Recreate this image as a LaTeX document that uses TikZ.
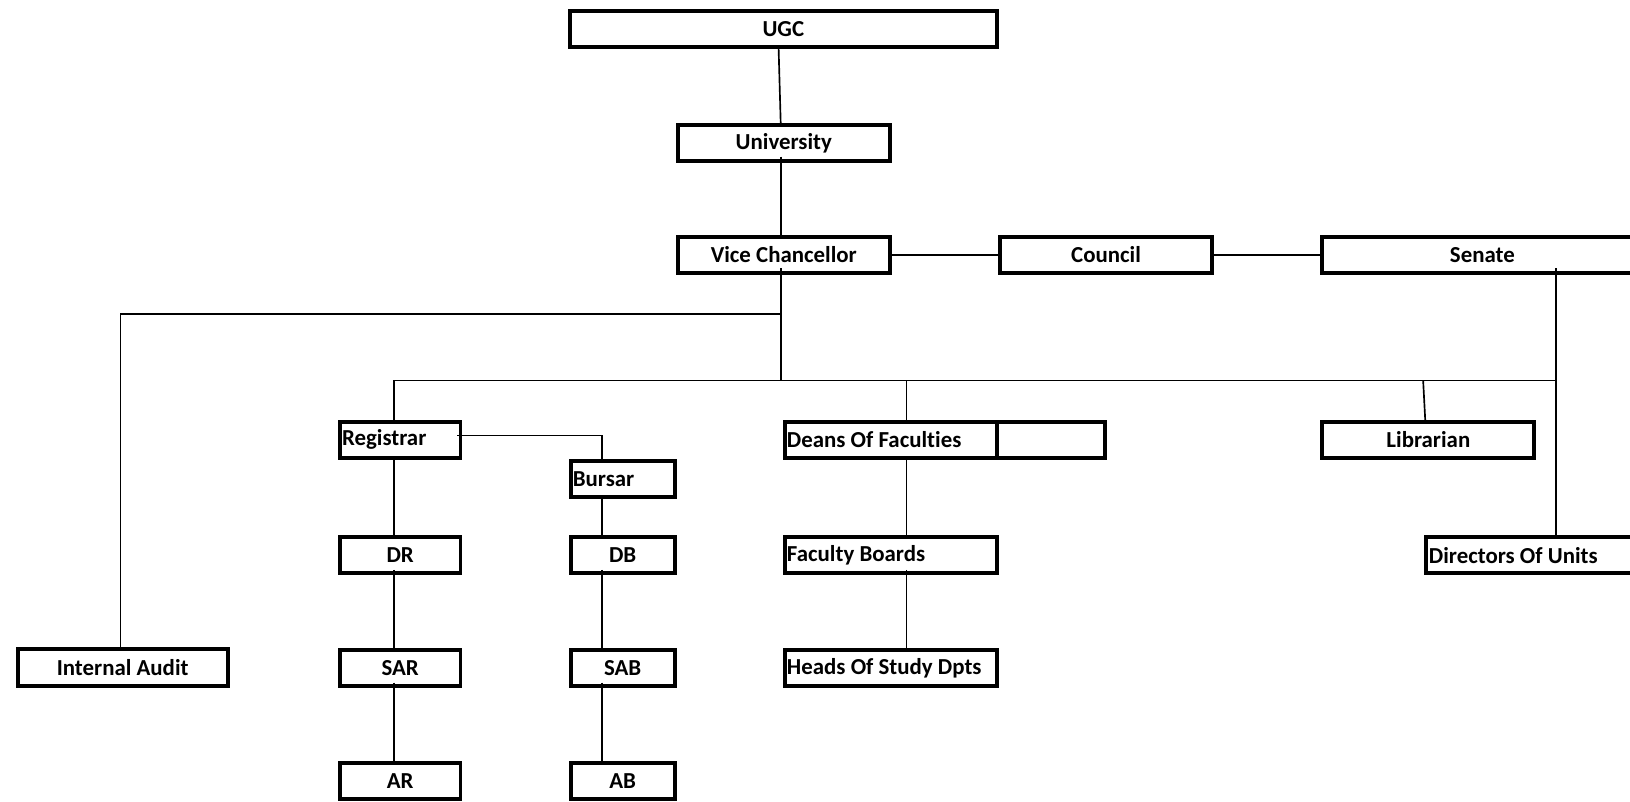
\documentclass[tikz,border=0pt]{standalone}
\usepackage{fontspec}
\setmainfont{Carlito}[Ligatures=NoCommon]
\begin{document}
\begin{tikzpicture}[x=1pt,y=-1pt,
  box/.style={draw, line width=3.8pt, minimum height=34.5pt, inner sep=0pt, font=\fontsize{22}{26}\selectfont\bfseries},
  conn/.style={line width=1.6pt}]
\useasboundingbox[fill=white] (0,0) rectangle (1568,771);
% nodes
\node[box, minimum width=411pt, minimum height=34pt] (ugc) at (753.5,28) {UGC};
\node[box, minimum width=204pt] (uni) at (754,137.5) {University};
\node[box, minimum width=204pt] (vc) at (754,245) {Vice Chancellor};
\node[box, minimum width=204pt] (council) at (1064,245) {Council};
\node[box, minimum width=308pt] (senate) at (1426,245) {Senate};
\node[box, minimum width=202pt, minimum height=36pt] (ia) at (118,642) {Internal Audit};
\node[box, minimum width=116pt] (reg) at (385,423) {\makebox[112pt][l]{Registrar}};
\node[box, minimum width=100pt] (bur) at (599,460.5) {\makebox[96pt][l]{Bursar}};
\node[box, minimum width=116pt] (dr) at (385,534) {DR};
\node[box, minimum width=100pt] (db) at (599,534) {DB};
\node[box, minimum width=116pt] (sar) at (385,642.5) {SAR};
\node[box, minimum width=100pt] (sab) at (599,642.5) {SAB};
\node[box, minimum width=116pt] (ar) at (385,751.5) {AR};
\node[box, minimum width=100pt] (ab) at (599,751.5) {AB};
\node[box, minimum width=204pt] (deans) at (857,423) {\makebox[200pt][l]{Deans Of Faculties}};
\node[box, minimum width=104pt] (deansx) at (1011,423) {};
\node[box, minimum width=204pt] (fb) at (857,534) {\makebox[200pt][l]{Faculty Boards}};
\node[box, minimum width=204pt] (heads) at (857,642.5) {\makebox[200pt][l]{Heads Of Study Dpts}};
\node[box, minimum width=204pt] (lib) at (1374,423) {Librarian};
\node[box, minimum width=208pt] (dou) at (1476,534) {\makebox[203pt][l]{Directors Of Units}};
% junctions
\coordinate (jia) at (751,302);
\coordinate (hl) at (379,366);
\coordinate (hm) at (751,366);
\coordinate (hd) at (872,366);
\coordinate (hr) at (1497,366);
\coordinate (bx) at (579,419);
% connectors
\draw[conn] ([xshift=-4.5pt]ugc.south) -- ([xshift=-3pt]uni.north);
\draw[conn] ([xshift=-3pt,yshift=6pt]uni.south) -- ([xshift=-3pt]vc.north);
\draw[conn] ([xshift=-3pt,yshift=6pt]vc.south) -- (hm);
\draw[conn] (vc.east) -- (council.west);
\draw[conn] (council.east) -- (senate.west);
\draw[conn] (jia) -| ([xshift=-2pt]ia.north);
\draw[conn] (hl) -- (hr);
\draw[conn] ([yshift=6pt]hr |- senate.south) -- (hr) -- (hr |- dou.north);
\draw[conn] (hl) -- (hl |- reg.north);
\draw[conn] (hl |- reg.south) -- (hl |- dr.north);
\draw[conn] ([yshift=5pt]hl |- dr.south) -- (hl |- sar.north);
\draw[conn] ([yshift=5pt]hl |- sar.south) -- (hl |- ar.north);
\draw[conn] ([xshift=-5pt,yshift=4pt]reg.east) -| (bx |- bur.north);
\draw[conn] (bx |- bur.south) -- (bx |- db.north);
\draw[conn] ([yshift=5pt]bx |- db.south) -- (bx |- sab.north);
\draw[conn] ([yshift=5pt]bx |- sab.south) -- (bx |- ab.north);
\draw[conn] (hd) -- (hd |- deans.north);
\draw[conn] (hd |- deans.south) -- (hd |- fb.north);
\draw[conn] ([yshift=5pt]hd |- fb.south) -- (hd |- heads.north);
\draw[conn] (1369,366) -- ([xshift=-3pt]lib.north);
\end{tikzpicture}
\end{document}
